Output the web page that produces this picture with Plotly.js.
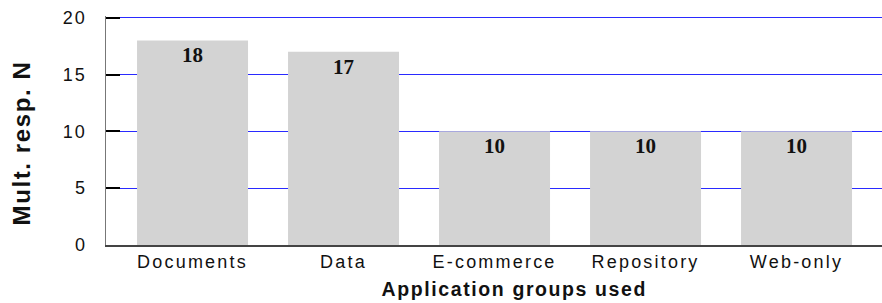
<!DOCTYPE html>
<html>
<head>
<meta charset="utf-8">
<script src="https://cdn.plot.ly/plotly-3.0.1.min.js"></script>
<style>
html,body{margin:0;padding:0;background:#fff;}
#chart{width:882px;height:303px;}
#chart .xtick text{letter-spacing:2.2px;}
#chart .ytick text{letter-spacing:2px;}
#chart .annotation-text{letter-spacing:1.6px;}
</style>
</head>
<body>
<div id="chart"></div>
<script>
const categories = ["Documents", "Data", "E-commerce", "Repository", "Web-only"];
const values = [18, 17, 10, 10, 10];
const yTicks = [0, 5, 10, 15, 20];
const xTitle = "Application groups used";
const yTitle = "Mult. resp. N";

const trace = {
  type: "bar",
  x: categories,
  y: values,
  text: values.map(String),
  textposition: "inside",
  insidetextanchor: "end",
  textangle: 0,
  constraintext: "none",
  textfont: {family: "Liberation Serif, serif", size: 21, color: "#111", weight: "bold"},
  marker: {color: "#d3d3d3", line: {width: 0}},
  width: 0.735,
  hoverinfo: "none"
};

const W = 882, H = 303, ML = 106, MR = 0, MT = 16, MB = 58;
const PW = W - ML - MR, PH = H - MT - MB;

const layout = {
  width: W, height: H,
  margin: {l: ML, r: MR, t: MT, b: MB},
  paper_bgcolor: "#fff", plot_bgcolor: "#fff",
  showlegend: false,
  font: {family: "Liberation Sans, Arial, sans-serif", size: 18, color: "#111"},
  xaxis: {
    range: [-0.573, 4.566],
    showgrid: false,
    showline: true, linecolor: "#444", linewidth: 1.5,
    ticks: "", tickfont: {size: 18}
  },
  yaxis: {
    range: [0, 20.15],
    tickvals: yTicks,
    showgrid: true, gridcolor: "#2a2aff", gridwidth: 1.2,
    zeroline: false,
    showline: true, linecolor: "#777", linewidth: 1.5,
    ticks: "inside", ticklen: 14, tickwidth: 2, tickcolor: "#000",
    ticklabelstandoff: 14,
    tickfont: {size: 18}
  },
  annotations: [
    {
      text: "<b>" + xTitle + "</b>", showarrow: false,
      xref: "paper", yref: "paper",
      x: (514 - ML) / PW, y: -(289 - (MT + PH)) / PH,
      xanchor: "center", yanchor: "middle",
      font: {size: 19.5, color: "#111"}
    },
    {
      text: "<b>" + yTitle + "</b>", showarrow: false, textangle: -90,
      xref: "paper", yref: "paper",
      x: (21 - ML) / PW, y: ((MT + PH) - 143) / PH,
      xanchor: "center", yanchor: "middle",
      font: {size: 24, color: "#111"}
    }
  ]
};

Plotly.newPlot("chart", [trace], layout, {staticPlot: true});
</script>
</body>
</html>
